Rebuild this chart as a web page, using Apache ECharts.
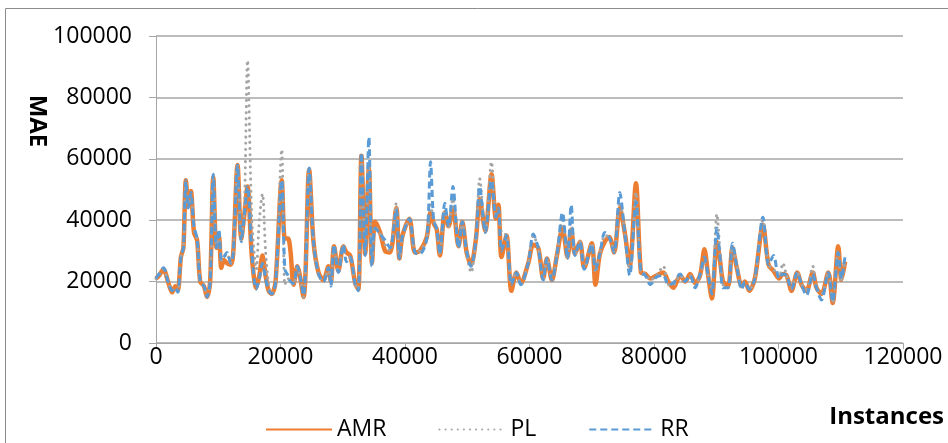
<!DOCTYPE html>
<html>
<head>
<meta charset="utf-8">
<script src="https://cdn.jsdelivr.net/npm/echarts@6/dist/echarts.min.js"></script>
<style>
  html, body { margin: 0; padding: 0; background: #fff; }
  #chart { width: 948px; height: 443px; }
</style>
</head>
<body>
<div id="chart"></div>
<script>
// instances (x, in thousands) shared by all three series
const instancesK = [
  0, 0.5, 1.2, 2, 2.6, 3.1, 3.5, 4.0, 4.4, 4.8, 5.2, 5.6, 6.1, 6.6, 7.1, 7.7, 8.2, 8.7,
  9.2, 9.7, 10.1, 10.5, 10.9, 11.4, 12.0, 12.4, 13.1, 13.7, 14.2, 14.7, 15.4, 16.1, 16.6,
  17.1, 17.6, 18.1, 18.6, 19.2, 20.2, 20.7, 21.2, 21.6, 22.1, 22.7, 23.7, 24.6, 25.3, 26.1,
  26.9, 27.7, 28.1, 28.6, 29.3, 30.1, 30.6, 31.2, 32.0, 32.5, 33.0, 33.6, 34.2, 34.7, 35.2,
  36.0, 36.8, 37.6, 38.6, 39.1, 39.6, 40.7, 41.6, 42.4, 43.5, 44.1, 44.6, 45.1, 45.6, 46.4,
  47.0, 47.7, 48.6, 49.2, 49.9, 50.6, 51.4, 52.0, 52.9, 53.9, 54.6, 55.0, 55.5, 56.3, 57.1,
  57.9, 58.6, 59.8, 60.6, 61.4, 62.2, 62.8, 63.6, 64.4, 65.3, 66.1, 66.7, 67.3, 68.1, 68.8,
  70.0, 70.6, 71.3, 72.1, 72.8, 73.6, 74.5, 75.3, 76.1, 77.1, 77.9, 78.6, 79.4, 80.4, 81.5,
  82.3, 83.1, 84.2, 85.0, 85.8, 86.6, 87.4, 88.1, 88.7, 89.3, 90.1, 90.6, 91.1, 91.9, 92.6,
  93.3, 94.1, 94.6, 95.3, 96.2, 97.5, 98.4, 99.2, 100.1, 100.7, 101.3, 102.1, 103.0, 103.7,
  104.5, 105.5, 106.1, 106.9, 108.0, 108.7, 109.6, 110.1, 110.7
];

// MAE values, in thousands
const amrK = [
  21, 22, 24, 19.5, 16.5, 18.5, 17, 28, 31, 53, 45, 49.5, 36, 33.5, 20, 18.5, 15, 20,
  54, 31, 35, 24.5, 27, 26, 25.5, 29, 58, 34, 42, 51, 28, 18, 22,
  28.5, 22, 17, 16, 20, 53, 34, 34, 30, 19, 25, 15, 56.5, 33, 23,
  20.5, 25, 20, 31.5, 23.5, 31.5, 29.5, 28.5, 19.5, 17.5, 61, 29, 57, 26, 39.5,
  36, 30, 29.5, 44, 27.5, 35, 40.5, 29.5, 30, 34.5, 42.5, 39, 37, 28.5, 42.5,
  38, 44, 31.5, 39.5, 29.5, 25.5, 34, 47, 36.5, 55, 40.5, 45, 28, 35, 17,
  23, 19.5, 26, 32, 31, 21, 27.5, 20.5, 28.5, 37.5, 28, 37, 29, 33, 24.5,
  32.5, 19, 29, 33, 34.5, 29.5, 44, 36, 25, 52, 23, 22.5, 21, 22, 23,
  20, 18, 22, 20, 22.5, 19.5, 22, 30.5, 22, 14.5, 33, 27, 20, 18.5, 31,
  24.5, 18.5, 20, 17, 21, 38.5, 25.5, 23.5, 21, 22.5, 22, 17, 23, 19,
  17, 23, 18, 16, 23, 13, 31.5, 20.5, 26.5
];

const plK = [
  21, 22, 24, 19.5, 17, 18, 17, 28, 31, 52, 45, 48, 37, 34, 20, 18.5, 15.5, 20,
  54, 31, 36, 27, 28, 29, 26, 29, 58, 34, 44, 92, 40, 24, 40,
  48.5, 30, 19, 16, 19, 63, 19, 21, 20, 19, 24.5, 15, 56.5, 33, 22.5,
  20, 24.5, 19, 31.5, 23, 31.5, 27, 28, 19, 17.5, 60, 29, 57, 26, 38,
  35.5, 32, 30, 45.5, 27.5, 34.5, 40, 29.5, 30, 34, 45, 40, 37, 29, 43,
  38, 47, 31, 39.5, 29, 23, 34, 53.5, 36, 59, 42, 43, 36, 35, 20,
  23, 19, 26, 35, 31, 20.5, 27.5, 20.5, 28.5, 40, 27.5, 40, 28.5, 33, 24.5,
  32.5, 23, 29, 35, 34.5, 29.5, 46, 36, 23, 49, 23, 22.5, 20.5, 22, 25,
  19, 19, 22, 20.5, 22, 18.5, 22, 26, 22, 18, 42, 30, 19, 18, 31,
  25, 18, 19.5, 17.5, 21, 40, 25.5, 24, 21.5, 26, 22, 18, 23, 19,
  17.5, 25, 18, 16, 23, 13, 30, 20, 27
];

const rrK = [
  21, 22.5, 24.5, 19.5, 17, 18, 16.5, 28, 31, 53, 44, 49, 38, 34, 20, 18.5, 15, 20,
  55, 31, 37, 27, 28, 29.5, 26, 29, 58, 33, 42, 51, 29, 17.5, 21,
  26, 21, 17, 16, 19.5, 53, 24, 22, 20, 19.5, 25, 15.5, 57, 33, 22.5,
  20, 24.5, 18.5, 32, 23, 32, 26.5, 28, 19, 17, 62, 28.5, 67, 25, 37.5,
  35.5, 33.5, 31, 43.5, 27.5, 35, 40.5, 29.5, 29, 34, 59, 40, 37, 29, 45.5,
  38, 51, 31, 39.5, 30, 25, 34, 51, 36, 53, 41, 44, 30, 35, 19,
  23, 19, 26, 35.5, 31, 20.5, 27.5, 20.5, 28.5, 42.5, 27.5, 45, 28.5, 33, 24,
  32, 24, 29, 36, 34.5, 29.5, 49, 36, 22, 46, 23, 22, 19, 21.5, 22,
  19, 19.5, 22.5, 20, 22, 18, 22.5, 28, 22, 16, 37.5, 28, 18, 18, 32.5,
  25, 17.5, 20, 17.5, 21, 41, 25.5, 28.5, 21, 22.5, 22, 17.5, 23, 19,
  15.5, 22.5, 18, 14, 23, 13.5, 29.5, 21, 28.5
];

const seriesNames = ['AMR', 'PL', 'RR'];
const xTicks = [0, 20000, 40000, 60000, 80000, 100000, 120000];
const yTicks = [0, 20000, 40000, 60000, 80000, 100000];

function pairs(vals) {
  return instancesK.map((x, i) => [x * 1000, vals[i] * 1000]);
}

const chart = echarts.init(document.getElementById('chart'));
const labelFont = { fontFamily: 'Open Sans', fontSize: 23, color: '#000' };
const gridGray = '#a6a6a6';

chart.setOption({
  animation: false,
  backgroundColor: '#fff',
  graphic: [
    {
      type: 'rect',
      shape: { x: 5.5, y: 8.5, width: 1000, height: 500 },
      style: { fill: 'none', stroke: '#8c8c8c', lineWidth: 1 },
      silent: true
    },
    {
      // y axis title, rotated clockwise like the original
      type: 'text',
      x: 37, y: 121,
      rotation: -Math.PI / 2,
      style: {
        text: 'MAE', fill: '#000',
        font: 'bold 24px "Open Sans"',
        align: 'center', verticalAlign: 'middle'
      },
      silent: true
    }
  ],
  grid: { left: 156, right: 45, top: 36, bottom: 100 },
  legend: {
    data: seriesNames,
    left: 260,
    top: 413,
    itemWidth: 66,
    itemHeight: 14,
    itemGap: 52,
    itemStyle: { opacity: 0 },
    textStyle: labelFont
  },
  xAxis: {
    type: 'value',
    min: xTicks[0],
    max: xTicks[xTicks.length - 1],
    interval: 20000,
    name: 'Instances',
    nameLocation: 'end',
    nameGap: 0,
    nameTextStyle: {
      fontFamily: 'Open Sans', fontWeight: 'bold', fontSize: 24, color: '#000',
      align: 'right', verticalAlign: 'top', padding: [62, -41, 0, 0]
    },
    axisLine: { show: true, lineStyle: { color: gridGray, width: 1 } },
    axisTick: { show: true, length: 6, lineStyle: { color: gridGray } },
    axisLabel: Object.assign({ margin: 3, formatter: v => String(v) }, labelFont),
    splitLine: { show: false }
  },
  yAxis: {
    type: 'value',
    min: yTicks[0],
    max: yTicks[yTicks.length - 1],
    interval: 20000,
    axisLine: { show: true, lineStyle: { color: gridGray, width: 1 } },
    axisTick: { show: true, length: 7, lineStyle: { color: gridGray } },
    axisLabel: Object.assign({ margin: 24, formatter: v => String(v) }, labelFont),
    splitLine: { show: true, lineStyle: { color: gridGray, width: 1.5 } }
  },
  series: [
    {
      name: 'AMR', type: 'line', data: pairs(amrK), smooth: 0.3, symbol: 'none',
      lineStyle: { color: '#ED7D31', width: 4.5 }, itemStyle: { color: '#ED7D31' }
    },
    {
      name: 'PL', type: 'line', data: pairs(plK), smooth: 0.3, symbol: 'none',
      lineStyle: { color: '#A5A5A5', width: 3, type: [0.1, 6], cap: 'round' }, itemStyle: { color: '#A5A5A5' }
    },
    {
      name: 'RR', type: 'line', data: pairs(rrK), smooth: 0.3, symbol: 'none',
      lineStyle: { color: '#5B9BD5', width: 3, type: [7, 4] }, itemStyle: { color: '#5B9BD5' }
    }
  ]
});
</script>
</body>
</html>
